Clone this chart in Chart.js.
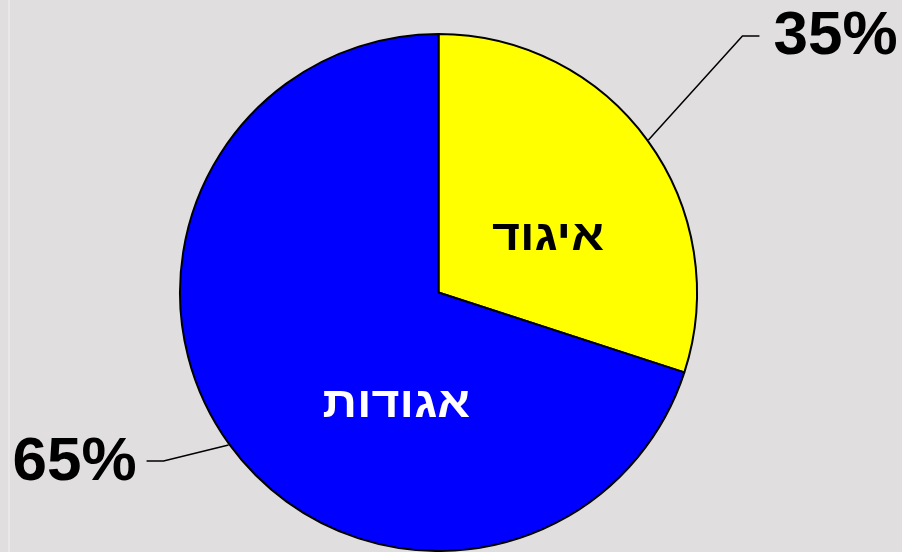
<!DOCTYPE html>
<html>
<head>
<meta charset="utf-8">
<script src="https://cdn.jsdelivr.net/npm/chart.js@4"></script>
<style>
    html, body { margin: 0; padding: 0; background: #e0dedf; }
    #wrap { width: 902px; height: 552px; position: relative; }
</style>
</head>
<body>
<div id="wrap"><canvas id="pie-canvas"></canvas></div>
<script>
document.addEventListener('DOMContentLoaded', function() {

    var categories = ['איגוד', 'אגודות'];
    var sliceValues = [30, 70];
    var percentLabels = ['35%', '65%'];

    var sliceColors = ['#ffff00', '#0000ff'];
    var innerTextColors = ['#000000', '#ffffff'];

    var fontFamily = '"Liberation Sans", Arial, sans-serif';

    // where the leader line bends, relative to the point on the rim
    var elbows = [
        { dx: 94, dy: -104, tail: 17, gap: 14 },
        { dx: -65, dy: 16, tail: -17, gap: 10 }
    ];
    // name inside each slice: angle from top (deg) and distance from centre (px)
    var innerPos = [
        { angle: 63.8, r: 122 },
        { angle: 200.6, r: 120 }
    ];

    var pieLabels = {
        id: 'pieLabels',
        beforeDraw: function(chart) {
            var ctx = chart.ctx;
            ctx.save();
            ctx.fillStyle = '#e0dedf';
            ctx.fillRect(0, 0, chart.width, chart.height);
            ctx.fillStyle = '#e9e7e8';
            ctx.fillRect(8, 0, 2, chart.height);
            ctx.restore();
        },
        afterDatasetsDraw: function(chart) {
            var ctx = chart.ctx;
            var arcs = chart.getDatasetMeta(0).data;
            ctx.save();
            arcs.forEach(function(arc, i) {
                var mid = (arc.startAngle + arc.endAngle) / 2;
                var rim = arc.outerRadius + 1;
                var ax = arc.x + Math.cos(mid) * rim;
                var ay = arc.y + Math.sin(mid) * rim;
                var e = elbows[i];
                var bx = ax + e.dx, by = ay + e.dy;
                var cx = bx + e.tail;

                ctx.strokeStyle = '#000';
                ctx.lineWidth = 1.5;
                ctx.beginPath();
                ctx.moveTo(ax, ay);
                ctx.lineTo(bx, by);
                ctx.lineTo(cx, by);
                ctx.stroke();

                ctx.fillStyle = '#000';
                ctx.font = 'bold 62px ' + fontFamily;
                ctx.textBaseline = 'middle';
                if (e.tail > 0) {
                    ctx.textAlign = 'left';
                    ctx.fillText(percentLabels[i], cx + e.gap, by + 1);
                } else {
                    ctx.textAlign = 'right';
                    ctx.fillText(percentLabels[i], cx - e.gap, by + 2);
                }

                var p = innerPos[i];
                var a = (p.angle - 90) * Math.PI / 180;
                var tx = arc.x + Math.cos(a) * p.r;
                var ty = arc.y + Math.sin(a) * p.r;
                ctx.save();
                ctx.translate(tx, ty);
                ctx.scale(1.12, 1);
                ctx.fillStyle = innerTextColors[i];
                ctx.font = 'bold 43px ' + fontFamily;
                ctx.textAlign = 'center';
                ctx.fillText(categories[i], 0, 0);
                ctx.restore();
            });
            ctx.restore();
        }
    };

    new Chart(document.getElementById('pie-canvas'), {
        type: 'pie',
        data: {
            labels: categories,
            datasets: [{
                data: sliceValues,
                backgroundColor: sliceColors,
                borderColor: '#000000',
                borderWidth: 2
            }]
        },
        options: {
            responsive: true,
            maintainAspectRatio: false,
            animation: false,
            layout: {
                padding: { left: 179, right: 204, top: 33, bottom: 0 }
            },
            plugins: {
                legend: { display: false },
                tooltip: { enabled: false }
            }
        },
        plugins: [pieLabels]
    });

});
</script>
</body>
</html>
